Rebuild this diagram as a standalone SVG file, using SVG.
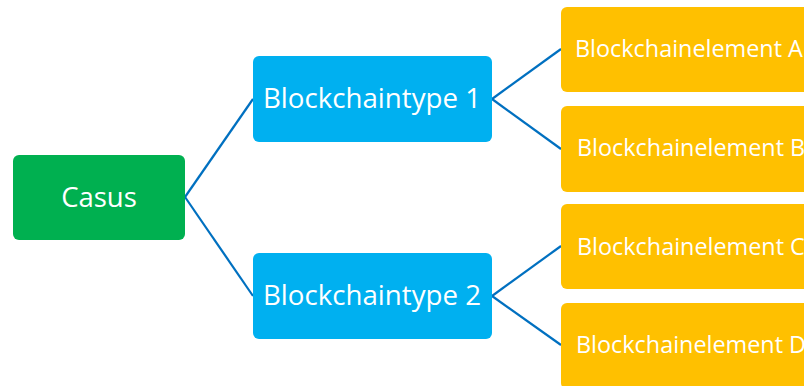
<svg xmlns="http://www.w3.org/2000/svg" width="804" height="386" viewBox="0 0 804 386">
<style>
.t{fill:#fff;font-family:"Open Sans","Noto Sans","DejaVu Sans",sans-serif}
.big{font-size:27.5px}
.sm{font-size:23.4px}
.c{stroke:#0070C0;stroke-width:2.2;fill:none}
</style>
<rect width="804" height="386" fill="#fff"/>
<g id="connectors">
<path class="c" d="M185 197 L253 99"/>
<path class="c" d="M185 197 L253 296"/>
<path class="c" d="M492 99 L561 49"/>
<path class="c" d="M492 99 L561 149"/>
<path class="c" d="M492 296 L561 246"/>
<path class="c" d="M492 296 L561 345"/>
</g>
<g id="casus">
<rect x="13" y="155" width="172" height="85" rx="6" fill="#00B050"/>
<text class="t big" x="99" y="207" text-anchor="middle">Casus</text>
</g>
<g id="type1">
<rect x="253" y="56" width="239" height="86" rx="6" fill="#00B0F0"/>
<text class="t big" x="372" y="108" text-anchor="middle" textLength="218" lengthAdjust="spacingAndGlyphs">Blockchaintype 1</text>
</g>
<g id="type2">
<rect x="253" y="253" width="239" height="86" rx="6" fill="#00B0F0"/>
<text class="t big" x="372" y="305" text-anchor="middle" textLength="218" lengthAdjust="spacingAndGlyphs">Blockchaintype 2</text>
</g>
<g id="elemA">
<rect x="561" y="7" width="260" height="85" rx="6" fill="#FFC000"/>
<text class="t sm" x="575" y="57">Blockchainelement A</text>
</g>
<g id="elemB">
<rect x="561" y="106" width="260" height="86" rx="6" fill="#FFC000"/>
<text class="t sm" x="577" y="156">Blockchainelement B</text>
</g>
<g id="elemC">
<rect x="561" y="204" width="260" height="85" rx="6" fill="#FFC000"/>
<text class="t sm" x="577" y="255">Blockchainelement C</text>
</g>
<g id="elemD">
<rect x="561" y="303" width="260" height="86" rx="6" fill="#FFC000"/>
<text class="t sm" x="576" y="353">Blockchainelement D</text>
</g>
</svg>
